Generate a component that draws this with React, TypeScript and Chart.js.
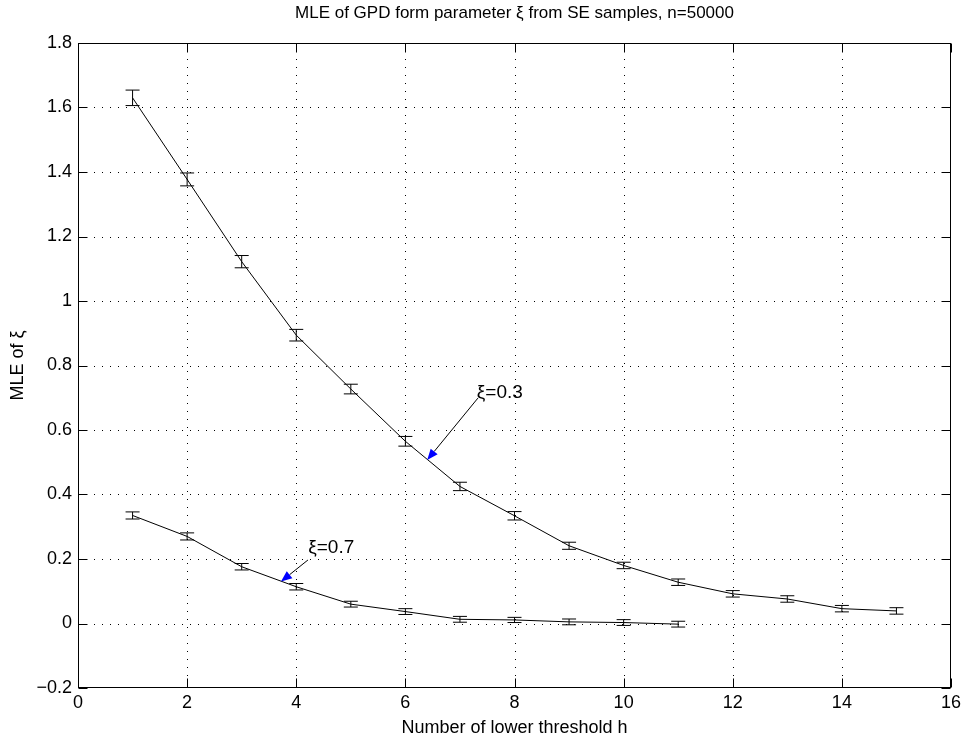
import React, { useEffect, useRef } from "react";
import { Chart, registerables } from "chart.js";

Chart.register(...registerables);

const X1 = [1, 2, 3, 4, 5, 6, 7, 8, 9, 10, 11, 12, 13, 14, 15];
const MLE_03 = [1.630, 1.377, 1.122, 0.894, 0.727, 0.565, 0.425, 0.334, 0.241, 0.180, 0.128, 0.092, 0.076, 0.046, 0.039];
const ERR_03 = [0.024, 0.020, 0.019, 0.018, 0.015, 0.015, 0.013, 0.013, 0.011, 0.010, 0.010, 0.010, 0.010, 0.010, 0.010];
const X2 = [1, 2, 3, 4, 5, 6, 7, 8, 9, 10, 11];
const MLE_07 = [0.335, 0.270, 0.176, 0.114, 0.060, 0.037, 0.013, 0.011, 0.005, 0.003, -0.002];
const ERR_07 = [0.011, 0.011, 0.010, 0.010, 0.009, 0.009, 0.009, 0.008, 0.009, 0.009, 0.009];

const X_TICKS = [0, 2, 4, 6, 8, 10, 12, 14, 16];
const Y_TICKS = [-0.2, 0, 0.2, 0.4, 0.6, 0.8, 1, 1.2, 1.4, 1.6, 1.8];

const TITLE = "MLE of GPD form parameter ξ from SE samples, n=50000";
const X_LABEL = "Number of lower threshold h";
const Y_LABEL = "MLE of ξ";

// annotations in data units
const ANNOT_LABELS = ["ξ=0.3", "ξ=0.7"];
const ANNOT_TEXT = [[7.31, 0.715], [4.22, 0.236]];
const ANNOT_START = [[7.33, 0.699], [4.215, 0.197]];
const ANNOT_TIP = [[6.40, 0.507], [3.72, 0.13]];

const FONT = "'Liberation Sans', Arial, Helvetica, sans-serif";

const fmt = (v: number) => {
  const r = Math.round(v * 10) / 10;
  const s = String(Math.abs(r));
  return r < 0 ? "\u2212" + s : s;
};

export default function App() {
  const ref = useRef<HTMLCanvasElement | null>(null);

  useEffect(() => {
    document.body.style.margin = "0";
    const canvas = ref.current;
    if (!canvas) return;

    const decorPlugin = {
      id: "matlabDecor",
      beforeDatasetsDraw(chart: any) {
        const { ctx, chartArea: a, scales } = chart;
        const xs = scales.x, ys = scales.y;
        ctx.save();
        ctx.strokeStyle = "#000";
        ctx.lineWidth = 1;
        ctx.setLineDash([1, 7]);
        X_TICKS.forEach((t) => {
          if (t === 0 || t === 16) return;
          const px = Math.round(xs.getPixelForValue(t)) + 0.5;
          ctx.beginPath();
          ctx.moveTo(px, a.top);
          ctx.lineTo(px, a.bottom);
          ctx.stroke();
        });
        Y_TICKS.forEach((t) => {
          if (t === -0.2 || t === 1.8) return;
          const py = Math.round(ys.getPixelForValue(t)) + 0.5;
          ctx.beginPath();
          ctx.moveTo(a.left, py);
          ctx.lineTo(a.right, py);
          ctx.stroke();
        });
        ctx.restore();
      },
      afterDatasetsDraw(chart: any) {
        const { ctx, chartArea: a, scales } = chart;
        const xs = scales.x, ys = scales.y;
        ctx.save();
        ctx.setLineDash([]);
        ctx.strokeStyle = "#000";
        ctx.lineWidth = 1;
        const drawErr = (xv: number[], yv: number[], ev: number[]) => {
          xv.forEach((x, i) => {
            const px = xs.getPixelForValue(x);
            const top = ys.getPixelForValue(yv[i] + ev[i]);
            const bot = ys.getPixelForValue(yv[i] - ev[i]);
            ctx.beginPath();
            ctx.moveTo(px, top);
            ctx.lineTo(px, bot);
            ctx.moveTo(px - 7, top);
            ctx.lineTo(px + 7, top);
            ctx.moveTo(px - 7, bot);
            ctx.lineTo(px + 7, bot);
            ctx.stroke();
          });
        };
        drawErr(X1, MLE_03, ERR_03);
        drawErr(X2, MLE_07, ERR_07);

        const L = Math.round(a.left) + 0.5, R = Math.round(a.right) - 0.5;
        const T = Math.round(a.top) + 0.5, B = Math.round(a.bottom) - 0.5;
        ctx.strokeRect(L, T, R - L, B - T);
        const tl = 9;
        ctx.beginPath();
        X_TICKS.forEach((t) => {
          const px = Math.round(xs.getPixelForValue(t)) + 0.5;
          ctx.moveTo(px, B);
          ctx.lineTo(px, B - tl);
          ctx.moveTo(px, T);
          ctx.lineTo(px, T + tl);
        });
        Y_TICKS.forEach((t) => {
          const py = Math.round(ys.getPixelForValue(t)) + 0.5;
          ctx.moveTo(L, py);
          ctx.lineTo(L + tl, py);
          ctx.moveTo(R, py);
          ctx.lineTo(R - tl, py);
        });
        ctx.stroke();

        ANNOT_LABELS.forEach((lab, i) => {
          const sx = xs.getPixelForValue(ANNOT_START[i][0]);
          const sy = ys.getPixelForValue(ANNOT_START[i][1]);
          const tx = xs.getPixelForValue(ANNOT_TIP[i][0]);
          const ty = ys.getPixelForValue(ANNOT_TIP[i][1]);
          const ang = Math.atan2(ty - sy, tx - sx);
          const hl = 11, hw = 4.5;
          const bx = tx - hl * Math.cos(ang), by = ty - hl * Math.sin(ang);
          ctx.strokeStyle = "#000";
          ctx.beginPath();
          ctx.moveTo(sx, sy);
          ctx.lineTo(bx, by);
          ctx.stroke();
          ctx.fillStyle = "#0000ff";
          ctx.beginPath();
          ctx.moveTo(tx, ty);
          ctx.lineTo(bx + hw * Math.sin(ang), by - hw * Math.cos(ang));
          ctx.lineTo(bx - hw * Math.sin(ang), by + hw * Math.cos(ang));
          ctx.closePath();
          ctx.fill();
          ctx.fillStyle = "#000";
          ctx.font = `19px ${FONT}`;
          ctx.textAlign = "left";
          ctx.textBaseline = "middle";
          ctx.fillText(lab, xs.getPixelForValue(ANNOT_TEXT[i][0]), ys.getPixelForValue(ANNOT_TEXT[i][1]));
        });

        ctx.fillStyle = "#000";
        ctx.font = `17px ${FONT}`;
        ctx.textAlign = "center";
        ctx.textBaseline = "middle";
        ctx.fillText(TITLE, (a.left + a.right) / 2, 13);
        ctx.restore();
      },
    };

    const chart = new Chart(canvas, {
      type: "line",
      data: {
        datasets: [
          {
            label: "ξ=0.3",
            data: X1.map((x, i) => ({ x, y: MLE_03[i] })),
            borderColor: "#000",
            borderWidth: 1,
            pointRadius: 0,
            tension: 0,
            fill: false,
          },
          {
            label: "ξ=0.7",
            data: X2.map((x, i) => ({ x, y: MLE_07[i] })),
            borderColor: "#000",
            borderWidth: 1,
            pointRadius: 0,
            tension: 0,
            fill: false,
          },
        ],
      },
      options: {
        animation: false,
        responsive: false,
        devicePixelRatio: 1,
        layout: { padding: { top: 43, right: 17, left: 0, bottom: 0 } },
        plugins: { legend: { display: false }, tooltip: { enabled: false }, title: { display: false } },
        scales: {
          x: {
            type: "linear",
            min: 0,
            max: 16,
            afterBuildTicks: (s: any) => { s.ticks = X_TICKS.map((v) => ({ value: v })); },
            afterFit: (s: any) => { s.height = 54; s.paddingLeft = 0; s.paddingRight = 0; },
            grid: { display: false, drawTicks: false },
            border: { display: false },
            ticks: { color: "#000", font: { family: FONT, size: 18 }, padding: 4, maxRotation: 0, autoSkip: false, callback: (v: any) => fmt(Number(v)) },
            title: { display: true, text: X_LABEL, color: "#000", font: { family: FONT, size: 18 }, padding: { top: 0, bottom: 3 } },
          },
          y: {
            type: "linear",
            min: -0.2,
            max: 1.8,
            afterBuildTicks: (s: any) => { s.ticks = Y_TICKS.map((v) => ({ value: v })); },
            afterFit: (s: any) => { s.width = 78; s.paddingTop = 0; s.paddingBottom = 0; },
            grid: { display: false, drawTicks: false },
            border: { display: false },
            ticks: { color: "#000", font: { family: FONT, size: 18 }, padding: 6, autoSkip: false, callback: (v: any) => fmt(Number(v)) },
            title: { display: true, text: Y_LABEL, color: "#000", font: { family: FONT, size: 18 }, padding: { top: 7, bottom: 0 } },
          },
        },
      },
      plugins: [decorPlugin],
    });
    return () => chart.destroy();
  }, []);

  return <canvas ref={ref} width={968} height={742} style={{ display: "block" }} />;
}
